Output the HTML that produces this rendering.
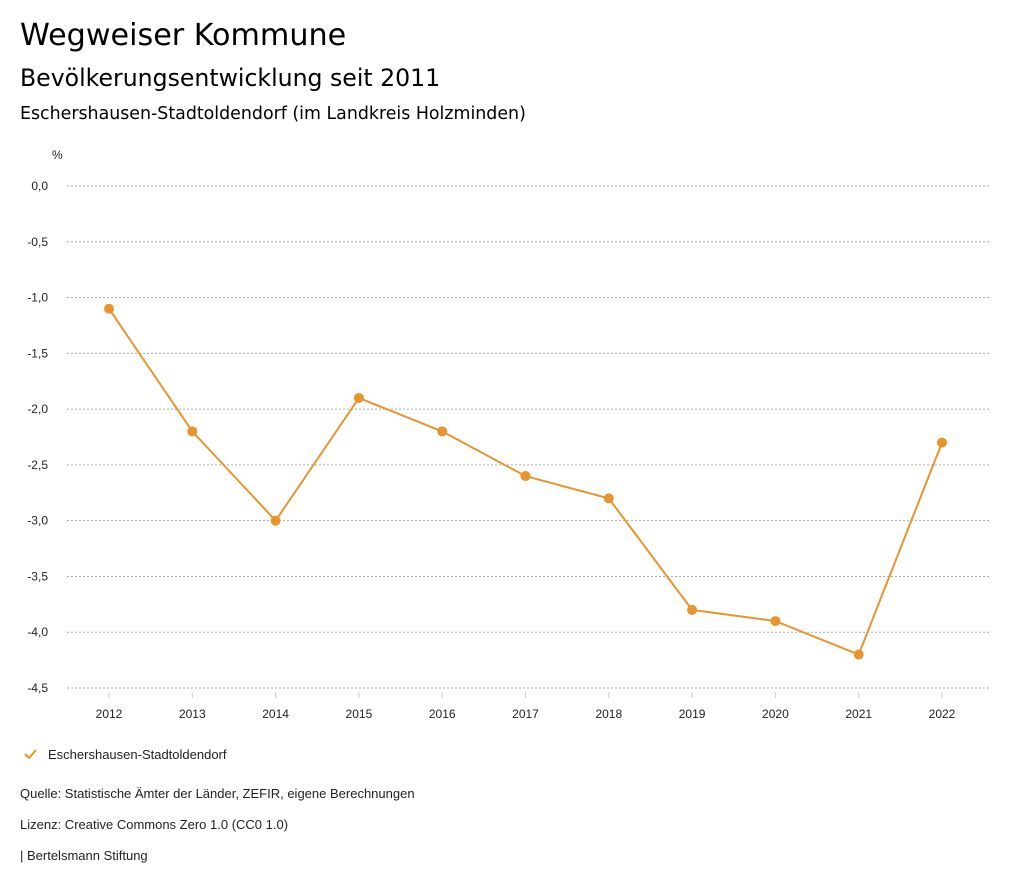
<!DOCTYPE html>
<html><head><meta charset="utf-8"><style>
body{margin:0;width:1024px;height:888px;background:#fff;font-family:"Liberation Sans",sans-serif;color:#000;overflow:hidden}
.t{position:absolute;left:20px;white-space:nowrap}
.d{font-family:"DejaVu Sans",sans-serif}
</style></head><body>
<div class="t d" style="top:18px;font-size:30.2px">Wegweiser Kommune</div>
<div class="t d" style="top:64px;font-size:23.6px">Bevölkerungsentwicklung seit 2011</div>
<div class="t d" style="top:104px;font-size:17.4px">Eschershausen-Stadtoldendorf (im Landkreis Holzminden)</div>
<svg id="chart" width="1024" height="888" style="position:absolute;left:0;top:0" font-family="Liberation Sans, sans-serif"></svg>
<div class="t" style="top:786px;font-size:13px;color:#222">Quelle: Statistische Ämter der Länder, ZEFIR, eigene Berechnungen</div>
<div class="t" style="top:817px;font-size:13px;color:#222">Lizenz: Creative Commons Zero 1.0 (CC0 1.0)</div>
<div class="t" style="top:848px;font-size:13px;color:#222">| Bertelsmann Stiftung</div>
<script>
const years=[2012,2013,2014,2015,2016,2017,2018,2019,2020,2021,2022];
const values=[-1.1,-2.2,-3.0,-1.9,-2.2,-2.6,-2.8,-3.8,-3.9,-4.2,-2.3];
const yTicks=[0,-0.5,-1,-1.5,-2,-2.5,-3,-3.5,-4,-4.5];
const seriesName="Eschershausen-Stadtoldendorf";
const NS="http://www.w3.org/2000/svg",svg=document.getElementById('chart');
const C='#e8952f';
function x(i){return 109+i*(942-109)/(years.length-1);}
function y(v){return 186+(0-v)/4.5*(688-186);}
function mk(t,a,p){const e=document.createElementNS(NS,t);for(const k in a)e.setAttribute(k,a[k]);(p||svg).appendChild(e);return e;}
let u=mk('text',{x:52,y:159,'font-size':12,fill:'#222'});u.textContent='%';


yTicks.forEach(v=>{
 const l=mk('line',{x1:67,x2:990,y1:y(v),y2:y(v),stroke:'#aaa','stroke-dasharray':'2,2','stroke-width':1});
 
 
 const t=mk('text',{x:48,y:y(v)+4,'font-size':12,'text-anchor':'end',fill:'#222'});
 t.textContent=v.toFixed(1).replace('.',',');
 
 
});
years.forEach((yr,i)=>{
 const l=mk('line',{x1:x(i),x2:x(i),y1:692,y2:698,stroke:'#ccc'});
 
 
 const t=mk('text',{x:x(i),y:718,'font-size':12,'text-anchor':'middle',fill:'#222'});
 t.textContent=yr;
 
 
});
const pl=mk('polyline',{points:values.map((v,i)=>x(i)+','+y(v)).join(' '),fill:'none',stroke:C,'stroke-width':2});


values.forEach((v,i)=>{
 const c=mk('circle',{cx:x(i),cy:y(v),r:5,fill:C});
 
 
});
const g=mk('g',{});


mk('polyline',{points:'25,754 29,758 36,750',fill:'none',stroke:C,'stroke-width':2},g);
const lt=mk('text',{x:48,y:759,'font-size':13,fill:'#222'},g);lt.textContent=seriesName;
</script>
</body></html>
